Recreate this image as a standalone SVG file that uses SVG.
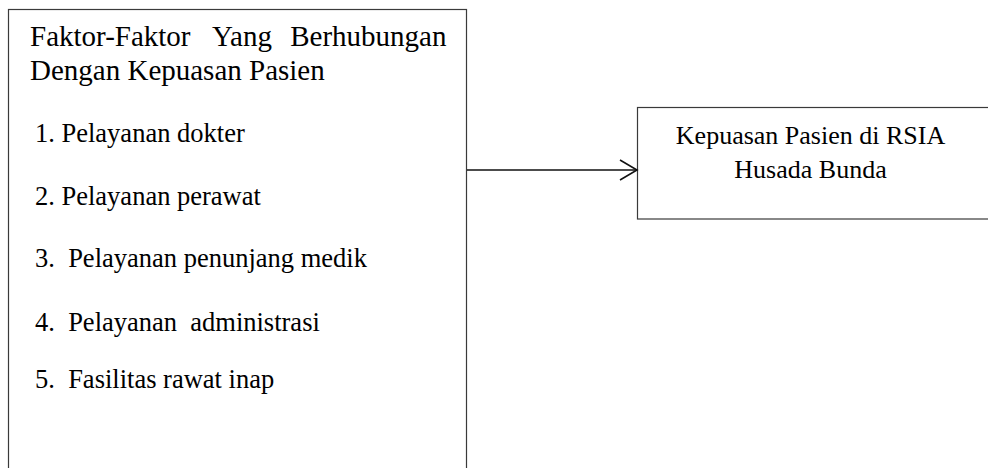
<svg xmlns="http://www.w3.org/2000/svg" width="988" height="468" viewBox="0 0 988 468">
<style>
.box{fill:#fff;stroke:#3a3a3a;stroke-width:1.2}
.t{font-family:"Liberation Serif","Times New Roman",serif;fill:#000;white-space:pre}
.title{font-size:29px}
.item{font-size:26.5px}
.lbl{font-size:26px}
.conn{stroke:#111;stroke-width:1.6;fill:none}
</style>
<defs>
<marker id="arr" markerUnits="userSpaceOnUse" markerWidth="24" markerHeight="24" viewBox="-20 -12 24 24" refX="0" refY="0" orient="auto">
<path d="M-17,-10 L0,0 L-17,10" fill="none" stroke="#111" stroke-width="1.6"/>
</marker>
</defs>
<rect width="988" height="468" fill="#fff"/>
<g id="faktor">
<rect class="box" x="8.5" y="9.5" width="458" height="470"/>
<text class="t title" x="30" y="46">Faktor-Faktor</text>
<text class="t title" x="212" y="46">Yang</text>
<text class="t title" x="446.5" y="46" text-anchor="end">Berhubungan</text>
<text class="t title" x="30" y="79.5">Dengan Kepuasan Pasien</text>
<text class="t item" x="35" y="142" xml:space="preserve">1. Pelayanan dokter</text>
<text class="t item" x="35" y="205" xml:space="preserve">2. Pelayanan perawat</text>
<text class="t item" x="35" y="267" xml:space="preserve">3.  Pelayanan penunjang medik</text>
<text class="t item" x="35" y="331" xml:space="preserve">4.  Pelayanan  administrasi</text>
<text class="t item" x="35" y="388" xml:space="preserve">5.  Fasilitas rawat inap</text>
</g>
<g id="kepuasan">
<rect class="box" x="637.5" y="107.5" width="360" height="111.5"/>
<text class="t lbl" x="810.5" y="143.5" text-anchor="middle">Kepuasan Pasien di RSIA</text>
<text class="t lbl" x="810.5" y="178" text-anchor="middle">Husada Bunda</text>
</g>
<g id="connectors">
<line class="conn" x1="467" y1="170" x2="637" y2="170" marker-end="url(#arr)"/>
</g>
</svg>
